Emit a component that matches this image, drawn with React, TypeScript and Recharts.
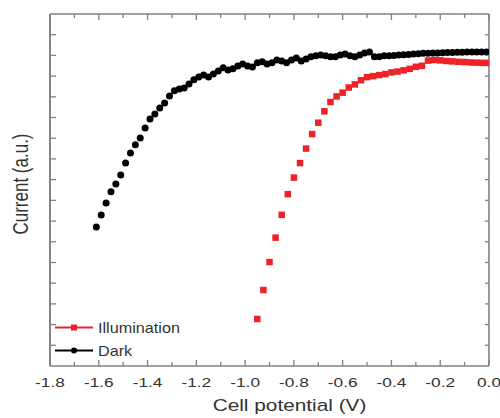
import React from 'react';
import { ScatterChart, Scatter, XAxis, YAxis, Legend, ReferenceLine } from 'recharts';

// dark sweep (V) and current (a.u.)
const darkPotential = [
    -1.61, -1.59, -1.57, -1.55, -1.53, -1.51, -1.49, -1.47, -1.45, -1.43,
    -1.41, -1.39, -1.37, -1.35, -1.33, -1.31, -1.29, -1.27, -1.25, -1.23,
    -1.21, -1.19, -1.17, -1.15, -1.13, -1.11, -1.09, -1.07, -1.05, -1.03,
    -1.01, -0.99, -0.97, -0.95, -0.93, -0.91, -0.89, -0.87, -0.85, -0.83,
    -0.81, -0.79, -0.77, -0.75, -0.73, -0.71, -0.69, -0.67, -0.65, -0.63,
    -0.61, -0.59, -0.57, -0.55, -0.53, -0.51, -0.49, -0.47, -0.45, -0.43,
    -0.41, -0.39, -0.37, -0.35, -0.33, -0.31, -0.29, -0.27, -0.25, -0.23,
    -0.21, -0.19, -0.17, -0.15, -0.13, -0.11, -0.09, -0.07, -0.05, -0.03, -0.01,
];
const darkCurrent = [
    6.71, 7.29, 7.87, 8.41, 8.79, 9.23, 9.81, 10.29, 10.68, 11.01,
    11.5, 11.93, 12.17, 12.46, 12.7, 13.04, 13.29, 13.38, 13.43, 13.62,
    13.82, 13.96, 14.06, 13.96, 14.1, 14.25, 14.4, 14.3, 14.35, 14.49,
    14.59, 14.49, 14.44, 14.64, 14.69, 14.59, 14.64, 14.78, 14.73, 14.64,
    14.78, 14.88, 14.73, 14.83, 14.93, 14.98, 15.02, 14.98, 14.93, 14.93,
    15.02, 15.07, 14.98, 14.93, 15.02, 15.12, 15.17, 14.93, 14.93, 14.98,
    14.98, 15.0, 15.02, 15.03, 15.05, 15.07, 15.08, 15.1, 15.1, 15.12,
    15.12, 15.13, 15.14, 15.14, 15.15, 15.15, 15.16, 15.16, 15.17, 15.17, 15.17,
];

const illumPotential = [
    -0.95, -0.925, -0.9, -0.875, -0.85, -0.825, -0.8, -0.775, -0.75, -0.725,
    -0.7, -0.675, -0.65, -0.625, -0.6, -0.575, -0.55, -0.525, -0.5, -0.475,
    -0.45, -0.425, -0.4, -0.375, -0.35, -0.325, -0.3, -0.275, -0.25, -0.225,
    -0.2, -0.175, -0.15, -0.125, -0.1, -0.075, -0.05, -0.025, 0,
];
const illumCurrent = [
    2.27, 3.67, 5.02, 6.2, 7.3, 8.3, 9.1, 9.8, 10.5, 11.2,
    11.75, 12.3, 12.75, 13.02, 13.2, 13.45, 13.6, 13.8, 13.95, 14.0,
    14.05, 14.1, 14.18, 14.22, 14.28, 14.35, 14.45, 14.5, 14.75, 14.78,
    14.76, 14.73, 14.71, 14.69, 14.68, 14.66, 14.65, 14.64, 14.64,
];

const xTicks = [-1.8, -1.7, -1.6, -1.5, -1.4, -1.3, -1.2, -1.1, -1.0, -0.9, -0.8, -0.7, -0.6, -0.5, -0.4, -0.3, -0.2, -0.1, 0];
const yTicks = [1, 2, 3, 4, 5, 6, 7, 8, 9, 10, 11, 12, 13, 14, 15, 16];

const RED = '#ee2028';
const BLACK = '#000000';
const AXIS = '#808080';
const TEXT = '#333333';
const FONT = '"Liberation Sans", Arial, sans-serif';

const legendItems = [
    { name: 'Illumination', color: RED, marker: 'square' },
    { name: 'Dark', color: BLACK, marker: 'circle' },
];

const darkData = darkPotential.map((v, k) => ({ v, i: darkCurrent[k] }));
const illumData = illumPotential.map((v, k) => ({ v, i: illumCurrent[k] }));

const isMajor = (v: number) => Math.round(v * 10) % 2 === 0;

const BottomTick = ({ x, y, payload }: any) => {
    const major = isMajor(payload.value);
    return (
        <g>
            <line x1={x} y1={y} x2={x} y2={y - (major ? 6 : 4)} stroke={AXIS} strokeWidth={1.3} />
            {major && (
                <text
                    transform={`translate(${x},${y + 21}) scale(1.33,1)`}
                    textAnchor="middle"
                    fontSize={13}
                    fontFamily={FONT}
                    fill={TEXT}
                >
                    {payload.value.toFixed(1)}
                </text>
            )}
        </g>
    );
};

const TopTick = ({ x, y, payload }: any) => (
    <line x1={x} y1={y} x2={x} y2={y + (isMajor(payload.value) ? 6 : 4)} stroke={AXIS} strokeWidth={1.3} />
);

const LeftTick = ({ x, y }: any) => <line x1={x} y1={y} x2={x + 6} y2={y} stroke={AXIS} strokeWidth={1.3} />;

const RightTick = ({ x, y }: any) => <line x1={x} y1={y} x2={x - 4} y2={y} stroke={AXIS} strokeWidth={1.3} />;

const XTitle = ({ viewBox }: any) => (
    <text
        transform={`translate(${viewBox.x + viewBox.width / 2 + 20},${viewBox.y + 45}) scale(1.3,1)`}
        textAnchor="middle"
        fontSize={16}
        fontFamily={FONT}
        fill={TEXT}
    >
        Cell potential (V)
    </text>
);

const YTitle = ({ viewBox }: any) => (
    <text
        transform={`translate(${viewBox.x + 20},${viewBox.y + viewBox.height / 2 - 6}) rotate(-90) scale(1,1.3)`}
        textAnchor="middle"
        dominantBaseline="central"
        fontSize={17}
        fontFamily={FONT}
        fill={TEXT}
    >
        Current (a.u.)
    </text>
);

const LegendContent = () => (
    <div>
        {legendItems.map((s) => (
            <div key={s.name} style={{ display: 'flex', alignItems: 'center', height: 23 }}>
                <svg width={43} height={23}>
                    <line x1={0} y1={11.5} x2={38} y2={11.5} stroke={s.color} strokeWidth={2} />
                    {s.marker === 'square' ? (
                        <rect x={16} y={8.5} width={6} height={6} fill={s.color} />
                    ) : (
                        <circle cx={19} cy={11.5} r={3} fill={s.color} />
                    )}
                </svg>
                <span
                    style={{
                        fontFamily: FONT,
                        fontSize: 15,
                        color: TEXT,
                        display: 'inline-block',
                        transform: 'scaleX(1.08)',
                        transformOrigin: 'left center',
                    }}
                >
                    {s.name}
                </span>
            </div>
        ))}
    </div>
);

const Square = (p: any) => <rect x={p.cx - 3.25} y={p.cy - 3.25} width={6.5} height={6.5} fill={RED} />;
const Dot = (p: any) => <circle cx={p.cx} cy={p.cy} r={3.5} fill={BLACK} />;

export default function App() {
    return (
        <div style={{ position: 'absolute', left: 0, top: 0, width: 500, height: 418, background: '#fff' }}>
            <ScatterChart width={500} height={418} margin={{ top: 13, right: 10, bottom: 0, left: 0 }}>
                <XAxis
                    xAxisId="b"
                    type="number"
                    dataKey="v"
                    domain={[-1.8, 0]}
                    ticks={xTicks}
                    interval={0}
                    allowDataOverflow
                    height={52}
                    tickSize={0}
                    tickMargin={0}
                    tickLine={false}
                    tick={<BottomTick />}
                    axisLine={{ stroke: AXIS, strokeWidth: 1.6 }}
                    label={{ value: 'Cell potential (V)', content: XTitle }}
                />
                <XAxis
                    xAxisId="t"
                    orientation="top"
                    type="number"
                    dataKey="v"
                    domain={[-1.8, 0]}
                    ticks={xTicks}
                    interval={0}
                    allowDataOverflow
                    height={1}
                    tickSize={0}
                    tickMargin={0}
                    tickLine={false}
                    tick={<TopTick />}
                    axisLine={{ stroke: AXIS, strokeWidth: 1.6 }}
                />
                <YAxis
                    yAxisId="l"
                    type="number"
                    dataKey="i"
                    domain={[0, 17]}
                    ticks={yTicks}
                    interval={0}
                    allowDataOverflow
                    width={50}
                    tickSize={0}
                    tickMargin={0}
                    tickLine={false}
                    tick={<LeftTick />}
                    axisLine={{ stroke: AXIS, strokeWidth: 1.6 }}
                    label={{ value: 'Current (a.u.)', content: YTitle }}
                />
                <YAxis
                    yAxisId="r"
                    orientation="right"
                    type="number"
                    dataKey="i"
                    domain={[0, 17]}
                    ticks={yTicks}
                    interval={0}
                    allowDataOverflow
                    width={1}
                    tickSize={0}
                    tickMargin={0}
                    tickLine={false}
                    tick={<RightTick />}
                    axisLine={{ stroke: AXIS, strokeWidth: 1.6 }}
                />
                {/* left frame edge, in case the axis line is thin */}
                <ReferenceLine x={-1.8} xAxisId="b" yAxisId="l" stroke={AXIS} strokeWidth={1.6} />
                <Scatter
                    name="Illumination"
                    data={illumData}
                    xAxisId="b"
                    yAxisId="l"
                    fill={RED}
                    shape={Square}
                    isAnimationActive={false}
                />
                <Scatter
                    name="Dark"
                    data={darkData}
                    xAxisId="b"
                    yAxisId="l"
                    fill={BLACK}
                    shape={Dot}
                    isAnimationActive={false}
                />
                {/* keeps the mirrored top/right axes tied to data */}
                <Scatter
                    name="mirror"
                    data={darkData}
                    xAxisId="t"
                    yAxisId="r"
                    legendType="none"
                    shape={() => <g />}
                    isAnimationActive={false}
                />
                <Legend
                    layout="vertical"
                    align="center"
                    verticalAlign="middle"
                    content={<LegendContent />}
                    wrapperStyle={{ left: 55, top: 316, width: 200 }}
                />
            </ScatterChart>
        </div>
    );
}
